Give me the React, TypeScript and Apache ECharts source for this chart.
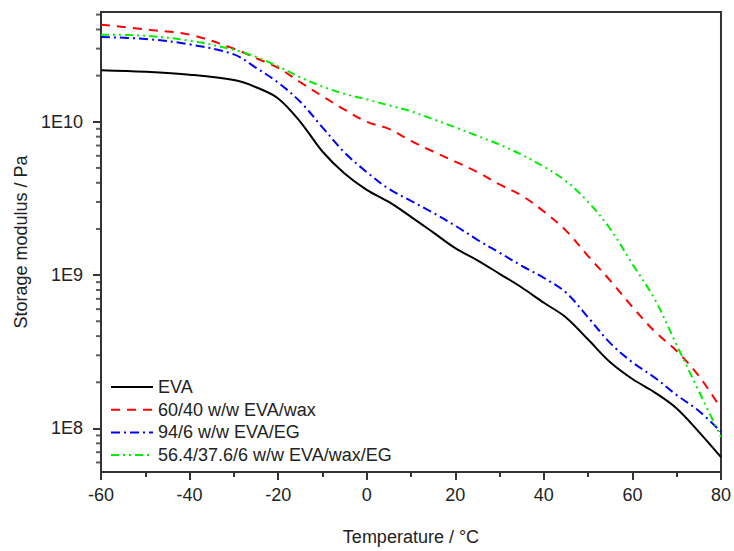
import React, { useEffect, useRef } from "react";
import * as echarts from "echarts";

const temps = [-60, -50, -40, -30, -25, -20, -15, -10, -5, 0, 5, 10, 15, 20, 25, 30, 35, 40, 45, 50, 55, 60, 65, 70, 75, 80];

const evaValues = [2.17e10, 2.12e10, 2.03e10, 1.87e10, 1.68e10, 1.42e10, 1.0e10, 6.4e9, 4.6e9, 3.6e9, 3.0e9, 2.4e9, 1.9e9, 1.5e9, 1.25e9, 1.02e9, 8.3e8, 6.6e8, 5.3e8, 3.8e8, 2.7e8, 2.1e8, 1.72e8, 1.35e8, 9.5e7, 6.5e7];
const waxValues = [4.3e10, 4.0e10, 3.7e10, 3.0e10, 2.6e10, 2.25e10, 1.81e10, 1.47e10, 1.2e10, 1.0e10, 9.0e9, 7.5e9, 6.4e9, 5.5e9, 4.7e9, 3.9e9, 3.3e9, 2.6e9, 1.95e9, 1.33e9, 9.2e8, 6.2e8, 4.3e8, 3.2e8, 2.2e8, 1.35e8];
const egValues = [3.57e10, 3.47e10, 3.2e10, 2.75e10, 2.25e10, 1.8e10, 1.35e10, 9.2e9, 6.3e9, 4.7e9, 3.65e9, 3.05e9, 2.55e9, 2.1e9, 1.7e9, 1.4e9, 1.15e9, 9.6e8, 7.7e8, 5.3e8, 3.6e8, 2.7e8, 2.15e8, 1.65e8, 1.3e8, 9.5e7];
const waxEgValues = [3.7e10, 3.64e10, 3.38e10, 2.95e10, 2.65e10, 2.3e10, 1.95e10, 1.7e10, 1.52e10, 1.4e10, 1.28e10, 1.17e10, 1.04e10, 9.2e9, 8.1e9, 7.1e9, 6.1e9, 5.1e9, 4.1e9, 3.0e9, 2.0e9, 1.18e9, 7.0e8, 3.5e8, 1.75e8, 8.8e7];

const seriesNames = ["EVA", "60/40 w/w EVA/wax", "94/6 w/w EVA/EG", "56.4/37.6/6 w/w EVA/wax/EG"];

const yMinorTicks = [6e7, 7e7, 8e7, 9e7, 2e8, 3e8, 4e8, 5e8, 6e8, 7e8, 8e8, 9e8, 2e9, 3e9, 4e9, 5e9, 6e9, 7e9, 8e9, 9e9, 2e10, 3e10, 4e10, 5e10];

const X_MIN = -60;
const X_MAX = 80;
const Y_MIN = 5.2e7;
const Y_MAX = 5.2e10;

const FONT = "'Liberation Sans', Arial, sans-serif";
const AXIS_COLOR = "#333";

function pairs(vals: number[]) {
  return temps.map((t, i) => [t, vals[i]]);
}

export default function App() {
  const ref = useRef<HTMLDivElement>(null);
  useEffect(() => {
    if (!ref.current) return;
    const chart = echarts.init(ref.current, null, { renderer: "svg" });
    const mkLine = (name: string, vals: number[], color: string, dash: any) => ({
      name,
      type: "line",
      data: pairs(vals),
      symbol: "none",
      smooth: 0.35,
      lineStyle: { color, width: 2, type: dash },
      itemStyle: { color },
      z: 3,
    });
    chart.setOption({
      animation: false,
      backgroundColor: "#fff",
      grid: {
        left: 101,
        right: 8,
        top: 12,
        bottom: 74,
        show: true,
        borderColor: AXIS_COLOR,
        borderWidth: 2,
        backgroundColor: "transparent",
      },
      legend: {
        data: seriesNames,
        orient: "vertical",
        left: 110,
        top: 378,
        padding: 0,
        itemWidth: 42,
        itemHeight: 10,
        itemGap: 4.7,
        itemStyle: { opacity: 0 },
        textStyle: { fontFamily: FONT, fontSize: 18, color: "#222", lineHeight: 18 },
        selectedMode: false,
      },
      xAxis: {
        type: "value",
        min: X_MIN,
        max: X_MAX,
        interval: 20,
        name: "Temperature / \u00B0C",
        nameLocation: "middle",
        nameGap: 56,
        nameTextStyle: { fontFamily: FONT, fontSize: 18, color: "#222" },
        axisLine: { show: true, onZero: false, lineStyle: { color: AXIS_COLOR, width: 2 } },
        axisTick: { show: true, inside: false, length: 8, lineStyle: { color: AXIS_COLOR, width: 2 } },
        minorTick: { show: true, splitNumber: 2, length: 5, lineStyle: { color: AXIS_COLOR, width: 2 } },
        splitLine: { show: false },
        axisLabel: { fontFamily: FONT, fontSize: 18, color: "#222", margin: 14 },
      },
      yAxis: {
        type: "log",
        logBase: 10,
        min: Y_MIN,
        max: Y_MAX,
        splitNumber: 3,
        name: "Storage modulus / Pa",
        nameLocation: "middle",
        nameGap: 68,
        nameTextStyle: { fontFamily: FONT, fontSize: 18, color: "#222" },
        axisLine: { show: true, onZero: false, lineStyle: { color: AXIS_COLOR, width: 2 } },
        axisTick: { show: true, inside: false, length: 8, lineStyle: { color: AXIS_COLOR, width: 2 } },
        splitLine: { show: false },
        axisLabel: {
          fontFamily: FONT,
          fontSize: 18,
          color: "#222",
          margin: 18,
          showMinLabel: false,
          showMaxLabel: false,
          formatter: (v: number) => {
            const e = Math.log10(v);
            if (Math.abs(e - Math.round(e)) < 1e-6) return "1E" + Math.round(e);
            return "";
          },
        },
      },
      series: [
        mkLine(seriesNames[0], evaValues, "#000000", "solid"),
        mkLine(seriesNames[1], waxValues, "#ff0000", [9, 7]),
        mkLine(seriesNames[2], egValues, "#0000ff", [9, 4, 2, 4]),
        mkLine(seriesNames[3], waxEgValues, "#00ee00", [8, 4, 2, 4, 2, 4]),
        {
          type: "scatter",
          name: "minorTicks",
          data: yMinorTicks.map((v) => [X_MIN, v]),
          clip: false,
          silent: true,
          symbol: "rect",
          symbolSize: [5, 2],
          symbolOffset: [-2.5, 0],
          itemStyle: { color: AXIS_COLOR },
          z: 5,
        },
      ],
    });
    return () => chart.dispose();
  }, []);
  return <div ref={ref} style={{ width: 734, height: 551, position: "absolute", left: 0, top: 0 }} />;
}
